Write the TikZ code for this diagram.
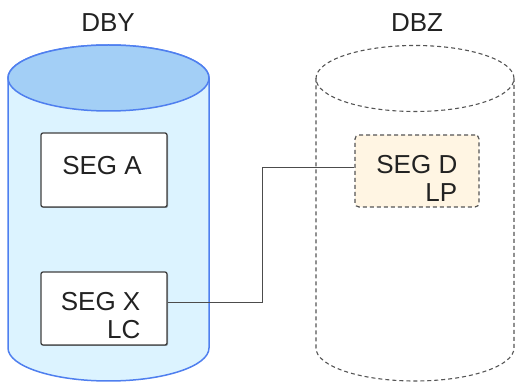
\documentclass[tikz,border=0pt]{standalone}
\usepackage{fontspec}
\setmainfont{Liberation Sans}
\usetikzlibrary{shadows}
\definecolor{bodyblue}{HTML}{DCF3FF}
\definecolor{topblue}{HTML}{A3CFF6}
\definecolor{edgeblue}{HTML}{4F7FEF}
\definecolor{creamfill}{HTML}{FFF5E3}
\definecolor{dashgray}{HTML}{555555}
\definecolor{txt}{HTML}{222222}
\begin{document}
\begin{tikzpicture}[x=1pt,y=1pt,
  lbl/.style={font=\fontsize{26}{28}\selectfont, text=txt, inner sep=0pt},
  segbox/.style={draw=black!75, line width=1.3pt, rounded corners=2pt, fill=white,
     drop shadow={shadow xshift=1pt, shadow yshift=-1pt, opacity=0.35, fill=black}},
  dashbox/.style={draw=dashgray, line width=1.2pt, dash pattern=on 4pt off 3pt, rounded corners=4pt, fill=creamfill},
  wire/.style={draw=black!70, line width=1pt}]
\useasboundingbox (0,0) rectangle (515,383);
% left cylinder DBY
\filldraw[fill=bodyblue, draw=edgeblue, line width=1.5pt]
  (8,305) -- (8,35) arc[start angle=180, end angle=360, x radius=100.5, y radius=33]
  -- (209,305) arc[start angle=0, end angle=180, x radius=100.5, y radius=33] -- cycle;
\filldraw[fill=topblue, draw=edgeblue, line width=1.5pt] (108.5,305) ellipse[x radius=100.5, y radius=33];
% right cylinder DBZ
\draw[draw=dashgray, line width=1.1pt, dash pattern=on 4pt off 3pt]
  (316,304.5) -- (316,35) arc[start angle=180, end angle=360, x radius=99, y radius=33]
  -- (514,304.5);
\draw[draw=dashgray, line width=1.1pt, dash pattern=on 4pt off 3pt] (415,304.5) ellipse[x radius=99, y radius=33];
% labels
\node[lbl] (dby) at (108,360) {DBY};
\node[lbl] (dbz) at (417,360) {DBZ};
% boxes
\node[segbox, minimum width=126pt, minimum height=74pt, inner sep=0pt] (sa) at (104,213) {};
\node[lbl] (sat) at (102,217) {SEG A};
\node[segbox, minimum width=126pt, minimum height=73pt, inner sep=0pt] (sx) at (104,74.5) {};
\node[lbl, align=right, anchor=east] (sxt) at (140.5,67) {SEG X\\LC};
\node[dashbox, minimum width=124pt, minimum height=72pt, inner sep=0pt] (sd) at (417,212) {};
\node[lbl, align=right, anchor=east] (sdt) at (457.5,204.5) {SEG D\\LP};
% connector
\coordinate (c1) at (262,80);
\coordinate (c2) at (262,215);
\draw[wire] (sx.east |- c1) -- (c1) -- (c2) -- (sd.west |- c2);
\end{tikzpicture}
\end{document}
